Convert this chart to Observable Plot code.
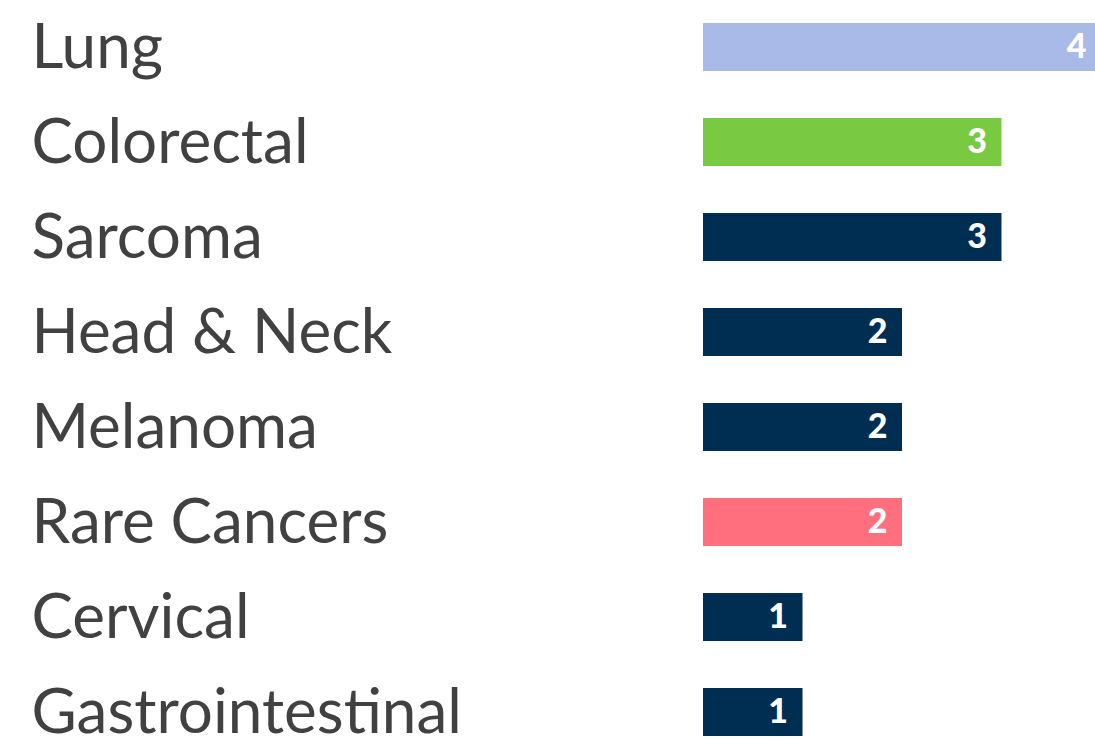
<!DOCTYPE html>
<html>
<head>
<meta charset="utf-8">
<script src="https://cdn.jsdelivr.net/npm/d3@7"></script>
<script src="https://cdn.jsdelivr.net/npm/@observablehq/plot@0.6"></script>
<style>
  html, body { margin: 0; padding: 0; background: #fff; overflow: hidden; }
</style>
</head>
<body>
<div id="chart"></div>
<script>
const categories = ["Lung", "Colorectal", "Sarcoma", "Head & Neck", "Melanoma", "Rare Cancers", "Cervical", "Gastrointestinal"];
const counts = [4, 3, 3, 2, 2, 2, 1, 1];
const colors = ["#aabae8", "#7ac943", "#002d52", "#002d52", "#002d52", "#ff6f7e", "#002d52", "#002d52"];

const data = categories.map((c, i) => ({category: c, count: counts[i], color: colors[i]}));

const chart = Plot.plot({
  width: 1095,
  height: 745,
  marginLeft: 703,
  marginRight: 0,
  marginTop: 0,
  marginBottom: 0,
  x: {domain: [0, 3.94], axis: null},
  y: {domain: categories, range: [-1.6, 760.8], paddingInner: 0.5, paddingOuter: 0.25, axis: null},
  marks: [
    Plot.barX(data, {x: "count", y: "category", fill: "color"}),
    Plot.text(data, {
      y: "category", text: "category", frameAnchor: "left", textAnchor: "start", dx: -672, dy: 1,
      fontSize: 62, fill: "#414141", fontFamily: "Lato"
    }),
    Plot.text(data, {
      x: "count", y: "category", text: d => String(d.count), textAnchor: "end", dx: -15,
      fontSize: 34, fontWeight: 900, fill: "#ffffff", fontFamily: "Lato"
    })
  ]
});
document.getElementById("chart").appendChild(chart);
</script>
</body>
</html>
